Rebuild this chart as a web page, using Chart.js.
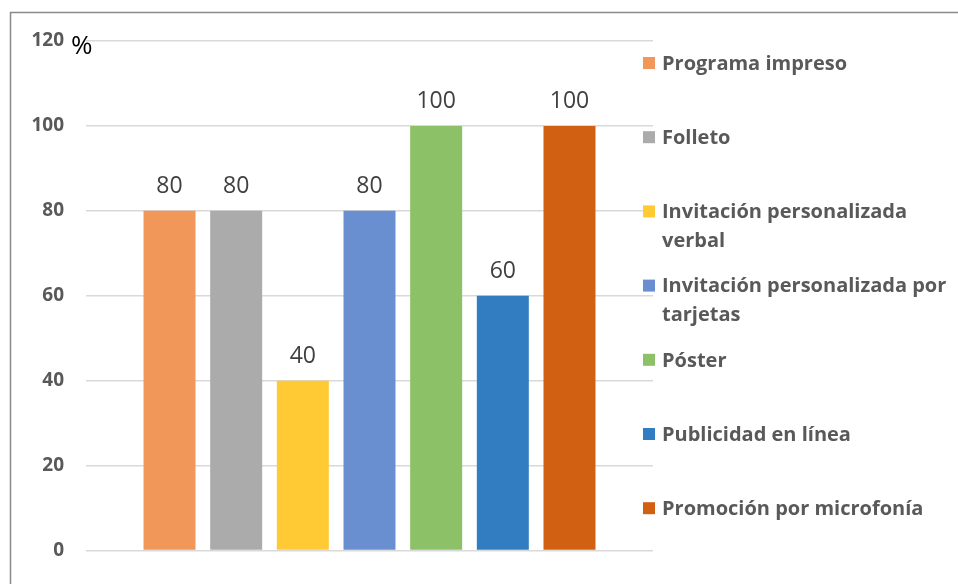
<!DOCTYPE html>
<html>
<head>
<meta charset="utf-8">
<script src="https://cdn.jsdelivr.net/npm/chart.js@4.4.1/dist/chart.umd.min.js"></script>
<style>
  html, body { margin: 0; padding: 0; background: #fff; }
  #wrap { width: 958px; height: 584px; position: relative; }
</style>
</head>
<body>
<div id="wrap"><canvas id="chart" width="958" height="584"></canvas></div>
<script>
// Series names (wrapped the way the legend shows them) and their values in %
const seriesNames = [
  ["Programa impreso"],
  ["Folleto"],
  ["Invitación personalizada", "verbal"],
  ["Invitación personalizada por", "tarjetas"],
  ["Póster"],
  ["Publicidad en línea"],
  ["Promoción por microfonía"]
];
const seriesValues = [80, 80, 40, 80, 100, 60, 100];
const seriesColors = ["#F1975A", "#ABABAB", "#FFCA33", "#6A8FD0", "#8CC168", "#327DC2", "#D26012"];
const yTicks = [0, 20, 40, 60, 80, 100, 120];
const yUnit = "%";

const FONT = "'Open Sans', 'DejaVu Sans', sans-serif";

// Frame line around the chart (top and left edges are visible)
const framePlugin = {
  id: "frame",
  beforeDraw(chart) {
    const c = chart.ctx;
    c.save();
    c.strokeStyle = "#8a8a8a";
    c.lineWidth = 1.5;
    c.beginPath();
    c.moveTo(10.5, 584);
    c.lineTo(10.5, 12.5);
    c.lineTo(958, 12.5);
    c.stroke();
    c.restore();
  }
};

// Value labels above each bar + "%" unit next to the top tick
const labelPlugin = {
  id: "valueLabels",
  afterDatasetsDraw(chart) {
    const c = chart.ctx;
    c.save();
    c.font = "23px " + FONT;
    c.fillStyle = "#404040";
    c.textAlign = "center";
    c.textBaseline = "alphabetic";
    chart.data.datasets.forEach((ds, i) => {
      const bar = chart.getDatasetMeta(i).data[0];
      c.fillText(String(ds.data[0]), bar.x, bar.y - 18);
    });
    const yScale = chart.scales.y;
    c.font = "26px " + FONT;
    c.fillStyle = "#000";
    c.textAlign = "left";
    c.fillText(yUnit, 71, yScale.getPixelForValue(yTicks[yTicks.length - 1]) + 13);
    c.restore();
  }
};

// Legend on the right, Excel style with wrapped labels
const legendPlugin = {
  id: "sideLegend",
  afterDraw(chart) {
    const c = chart.ctx;
    const x0 = chart.chartArea.right - 10;
    c.save();
    c.font = "bold 20px " + FONT;
    c.textBaseline = "middle";
    chart.data.datasets.forEach((ds, i) => {
      const y = 63 + i * 74.2;
      c.fillStyle = ds.backgroundColor;
      c.fillRect(x0, y - 6, 12, 12);
      c.fillStyle = "#595959";
      ds.label.forEach((line, j) => c.fillText(line, x0 + 19, y + 1 + j * 29));
    });
    c.restore();
  }
};

new Chart(document.getElementById("chart"), {
  type: "bar",
  data: {
    labels: [""],
    datasets: seriesNames.map((name, i) => ({
      label: name,
      data: [seriesValues[i]],
      backgroundColor: seriesColors[i],
      borderWidth: 0,
      categoryPercentage: 0.823,
      barPercentage: 0.78
    }))
  },
  options: {
    responsive: false,
    animation: false,
    layout: { padding: { left: 0, right: 305, top: 41, bottom: 33 } },
    plugins: { legend: { display: false }, tooltip: { enabled: false } },
    scales: {
      x: { display: false },
      y: {
        min: yTicks[0],
        max: yTicks[yTicks.length - 1],
        afterBuildTicks: s => { s.ticks = yTicks.map(v => ({ value: v })); },
        afterFit: s => { s.width = 86; },
        border: { display: false },
        grid: { color: "#d9d9d9", lineWidth: 1.5, drawTicks: false },
        ticks: {
          padding: 22,
          color: "#595959",
          font: { family: FONT, size: 19, weight: "bold" }
        }
      }
    }
  },
  plugins: [framePlugin, labelPlugin, legendPlugin]
});
</script>
</body>
</html>
